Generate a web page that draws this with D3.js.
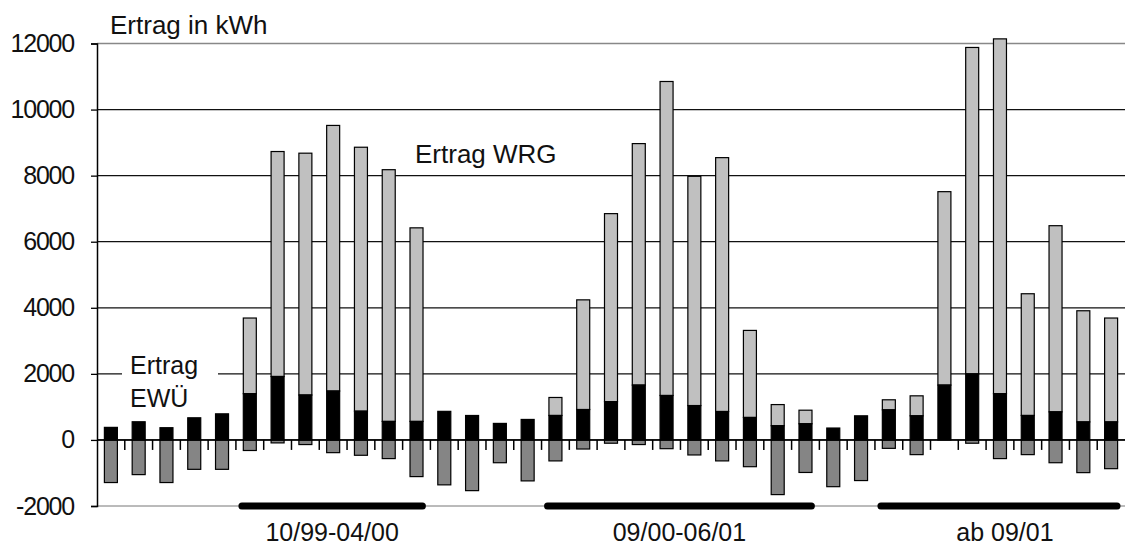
<!DOCTYPE html>
<html>
<head>
<meta charset="utf-8">
<script src="https://cdn.jsdelivr.net/npm/d3@7"></script>
<style>
  html, body { margin: 0; padding: 0; background: #fff; }
  svg { display: block; font-family: "Liberation Sans", Arial, sans-serif; }
</style>
</head>
<body>
<svg id="chart" width="1125" height="545"></svg>
<script>
const months = ["05/99","06/99","07/99","08/99","09/99","10/99","11/99","12/99",
  "01/00","02/00","03/00","04/00","05/00","06/00","07/00","08/00","09/00","10/00","11/00","12/00",
  "01/01","02/01","03/01","04/01","05/01","06/01","07/01","08/01","09/01","10/01","11/01","12/01",
  "01/02","02/02","03/02","04/02","05/02"];

// Ertrag EWÜ (black, from 0 upward)
const ertragEWU = [380, 550, 370, 670, 790, 1400, 1920, 1360, 1480, 870, 560, 560,
  865, 740, 500, 620, 740, 920, 1160, 1660, 1345, 1040, 860, 680, 430, 490,
  360, 730, 910, 730, 1660, 2000, 1400, 740, 850, 545, 545];

// Ertrag WRG (light grey, stacked on top of EWÜ)
const ertragWRG = [0, 0, 0, 0, 0, 2290, 6810, 7320, 8040, 7990, 7620, 5860,
  0, 0, 0, 0, 545, 3320, 5690, 7310, 9505, 6940, 7685, 2635, 640, 410,
  0, 0, 305, 605, 5855, 9880, 10740, 3685, 5635, 3365, 3145];

// negative part (dark grey, from 0 downward)
const negativ = [-1290, -1050, -1290, -890, -890, -320, -90, -140, -385, -465, -565, -1110,
  -1360, -1535, -690, -1240, -635, -275, -100, -140, -265, -455, -635, -810, -1655, -985,
  -1415, -1230, -255, -445, 0, -100, -565, -445, -690, -990, -870];

const yTicks = [-2000, 0, 2000, 4000, 6000, 8000, 10000, 12000];
const yTickLabels = ["-2000", "0", "2000", "4000", "6000", "8000", "10000", "12000"];

const periodLabels = ["10/99-04/00", "09/00-06/01", "ab 09/01"];
const periodStart = ["10/99", "09/00", "09/01"];
const periodEnd = ["04/00", "06/01", "05/02"];

const svg = d3.select("#chart");
const W = 1125, H = 545;
const mLeft = 97, mRight = 1125, mTop = 43.5, mBottom = 506;

const x = d3.scaleBand().domain(months).range([mLeft, mRight]).padding(0);
const y = d3.scaleLinear().domain([-2000, 12000]).range([mBottom, mTop]);
const bw = x.bandwidth();
const barW = 13;
const cx = m => x(m) + bw / 2;

// gridlines
svg.append("g").selectAll("line").data(yTicks).join("line")
  .attr("x1", mLeft).attr("x2", mRight)
  .attr("y1", d => y(d)).attr("y2", d => y(d))
  .attr("stroke", d => d === 12000 ? "#888" : (d === -2000 ? "#777" : "#111"))
  .attr("stroke-width", d => d === -2000 ? 1 : 1.3);

// white box behind "Ertrag EWÜ" label
svg.append("rect").attr("x", 122).attr("y", 352).attr("width", 96).attr("height", 60).attr("fill", "#fff");

const bars = svg.append("g");
// negative bars
bars.selectAll("rect.neg").data(months.map((m, i) => ({m, v: negativ[i]})).filter(d => d.v < 0))
  .join("rect").attr("class", "neg")
  .attr("x", d => cx(d.m) - barW / 2).attr("width", barW)
  .attr("y", y(0)).attr("height", d => y(d.v) - y(0))
  .attr("fill", "#858585").attr("stroke", "#000").attr("stroke-width", 1.2);
// WRG stacked on top
bars.selectAll("rect.wrg").data(months.map((m, i) => ({m, a: ertragEWU[i], b: ertragEWU[i] + ertragWRG[i]})).filter(d => d.b > d.a))
  .join("rect").attr("class", "wrg")
  .attr("x", d => cx(d.m) - barW / 2).attr("width", barW)
  .attr("y", d => y(d.b)).attr("height", d => y(d.a) - y(d.b))
  .attr("fill", "#c0c0c0").attr("stroke", "#000").attr("stroke-width", 1.2);
// EWÜ black
bars.selectAll("rect.ewu").data(months.map((m, i) => ({m, v: ertragEWU[i]})))
  .join("rect").attr("class", "ewu")
  .attr("x", d => cx(d.m) - barW / 2).attr("width", barW)
  .attr("y", d => y(d.v)).attr("height", d => y(0) - y(d.v))
  .attr("fill", "#000").attr("stroke", "#000").attr("stroke-width", 1.2);

// zero line
svg.append("line").attr("x1", mLeft).attr("x2", mRight).attr("y1", y(0)).attr("y2", y(0))
  .attr("stroke", "#000").attr("stroke-width", 1.5);
// x ticks at band boundaries
svg.append("g").selectAll("line").data(months.slice(1)).join("line")
  .attr("x1", d => x(d)).attr("x2", d => x(d))
  .attr("y1", y(0)).attr("y2", y(0) + 10)
  .attr("stroke", "#000").attr("stroke-width", 1.5);

// y axis
const yAxis = d3.axisLeft(y).tickValues(yTicks).tickSize(6).tickPadding(17)
  .tickFormat((d, i) => yTickLabels[i]);
const ya = svg.append("g").attr("transform", `translate(${mLeft},0)`).call(yAxis);
ya.select(".domain").attr("stroke", "#000").attr("stroke-width", 1.5);
ya.selectAll(".tick line").attr("stroke", "#000").attr("stroke-width", 1.3);
ya.selectAll(".tick text").attr("font-size", 25).attr("fill", "#111")
  .attr("letter-spacing", "-1.2px").attr("font-family", "Liberation Sans, Arial, sans-serif");

// period bars
periodLabels.forEach((lab, i) => {
  const x1 = x(periodStart[i]) + 6;
  const x2 = Math.min(x(periodEnd[i]) + bw - 8, W + 10);
  svg.append("line").attr("x1", x1).attr("x2", x2).attr("y1", mBottom).attr("y2", mBottom)
    .attr("stroke", "#000").attr("stroke-width", 7).attr("stroke-linecap", "round");
  svg.append("text").attr("x", (x1 + x2) / 2 + (i === 2 ? 6 : 0)).attr("y", 541)
    .attr("text-anchor", "middle").attr("font-size", 25).attr("fill", "#111").text(lab);
});

// titles / labels
svg.append("text").attr("x", 110).attr("y", 34).attr("font-size", 26).attr("fill", "#111").text("Ertrag in kWh");
svg.append("text").attr("x", 415).attr("y", 163).attr("font-size", 26).attr("fill", "#111").text("Ertrag WRG");
const ewuLabel = svg.append("text").attr("x", 130).attr("font-size", 25).attr("fill", "#111");
ewuLabel.append("tspan").attr("x", 130).attr("y", 374).text("Ertrag");
ewuLabel.append("tspan").attr("x", 130).attr("y", 407).text("EWÜ");
</script>
</body>
</html>
